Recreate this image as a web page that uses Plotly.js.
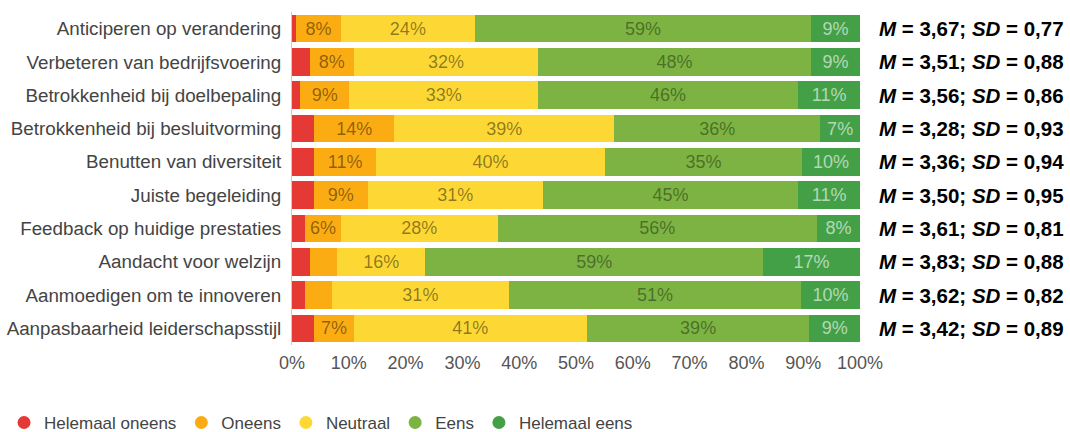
<!DOCTYPE html>
<html>
<head>
<meta charset="utf-8">
<script src="https://cdn.plot.ly/plotly-3.0.1.min.js"></script>
<style>html,body{margin:0;padding:0;background:#fff;}#chart{width:1070px;height:432px;}</style>
</head>
<body>
<div id="chart"></div>
<script>
const categories = [
  "Anticiperen op verandering",
  "Verbeteren van bedrijfsvoering",
  "Betrokkenheid bij doelbepaling",
  "Betrokkenheid bij besluitvorming",
  "Benutten van diversiteit",
  "Juiste begeleiding",
  "Feedback op huidige prestaties",
  "Aandacht voor welzijn",
  "Aanmoedigen om te innoveren",
  "Aanpasbaarheid leiderschapsstijl"
];
const seriesNames = ["Helemaal oneens", "Oneens", "Neutraal", "Eens", "Helemaal eens"];
const helemaalOneens = [0.7, 3.1, 1.4, 3.9, 3.9, 3.9, 2.3, 3.2, 2.3, 3.9];
const oneens         = [7.9, 7.8, 8.7, 14.1, 10.9, 9.4, 6.3, 4.7, 4.7, 7.0];
const neutraal       = [23.6, 32.4, 33.2, 38.7, 40.3, 30.9, 27.6, 15.6, 31.2, 41.0];
const eens           = [59.2, 48.1, 45.8, 36.3, 34.7, 44.9, 56.2, 59.4, 51.4, 39.2];
const helemaalEens   = [8.6, 8.6, 10.9, 7.0, 10.2, 10.9, 7.6, 17.1, 10.4, 8.9];
const means = ["3,67", "3,51", "3,56", "3,28", "3,36", "3,50", "3,61", "3,83", "3,62", "3,42"];
const sds   = ["0,77", "0,88", "0,86", "0,93", "0,94", "0,95", "0,81", "0,88", "0,82", "0,89"];
const xTickVals = [0, 10, 20, 30, 40, 50, 60, 70, 80, 90, 100];

const colors = ["#e53935", "#fbac12", "#fdd835", "#7cb342", "#43a047"];
const textColors = ["rgba(0,0,0,0.45)", "rgba(0,0,0,0.45)", "rgba(0,0,0,0.45)", "rgba(0,0,0,0.4)", "rgba(255,255,255,0.6)"];
const allSeries = [helemaalOneens, oneens, neutraal, eens, helemaalEens];
const FONT = "Liberation Sans, Arial, sans-serif";

const traces = [];
allSeries.forEach((vals, i) => {
  traces.push({
    type: "bar",
    orientation: "h",
    name: seriesNames[i],
    y: categories,
    x: vals,
    marker: {color: colors[i]},
    text: vals.map(v => v >= 5.5 ? Math.round(v) + "%" : ""),
    textposition: "inside",
    insidetextanchor: "middle",
    textangle: 0,
    textfont: {family: FONT, size: 18, color: textColors[i]},
    constraintext: "none",
    hoverinfo: "x+name",
    showlegend: false
  });
});
seriesNames.forEach((n, i) => {
  traces.push({
    type: "scatter",
    mode: "markers",
    name: n,
    x: [null],
    y: [null],
    marker: {color: colors[i], size: 13, symbol: "circle"},
    showlegend: true
  });
});

const annotations = categories.map((c, i) => ({
  xref: "paper", yref: "y",
  x: 1.03, y: c,
  xanchor: "left", yanchor: "middle",
  text: "<b><i>M</i> = " + means[i] + "; <i>SD</i> = " + sds[i] + "</b>",
  showarrow: false,
  font: {family: FONT, size: 20.5, color: "#000"}
}));

const layout = {
  width: 1070, height: 432,
  margin: {l: 292, r: 210, t: 12, b: 87, autoexpand: false},
  barmode: "stack",
  bargap: 0.17,
  paper_bgcolor: "#fff",
  plot_bgcolor: "#fff",
  font: {family: FONT, color: "#444"},
  xaxis: {
    range: [0, 100],
    tickvals: xTickVals,
    ticktext: xTickVals.map(v => v + "%"),
    showgrid: false,
    zeroline: false,
    showline: false,
    automargin: false,
    ticklabelstandoff: 5,
    tickfont: {size: 18, color: "#555"},
    fixedrange: true
  },
  yaxis: {
    autorange: "reversed",
    type: "category",
    showgrid: false,
    showline: true,
    linecolor: "#ccc",
    linewidth: 1,
    ticks: "",
    automargin: false,
    ticklabelstandoff: 6,
    tickfont: {size: 18.8, color: "#444"},
    fixedrange: true
  },
  legend: {
    orientation: "h",
    traceorder: "normal",
    x: -0.507, xanchor: "left",
    y: -0.234, yanchor: "middle",
    font: {size: 17, color: "#444"},
    itemclick: false
  },
  annotations: annotations,
  showlegend: true
};

Plotly.newPlot("chart", traces, layout, {displayModeBar: false, staticPlot: true});
</script>
</body>
</html>
